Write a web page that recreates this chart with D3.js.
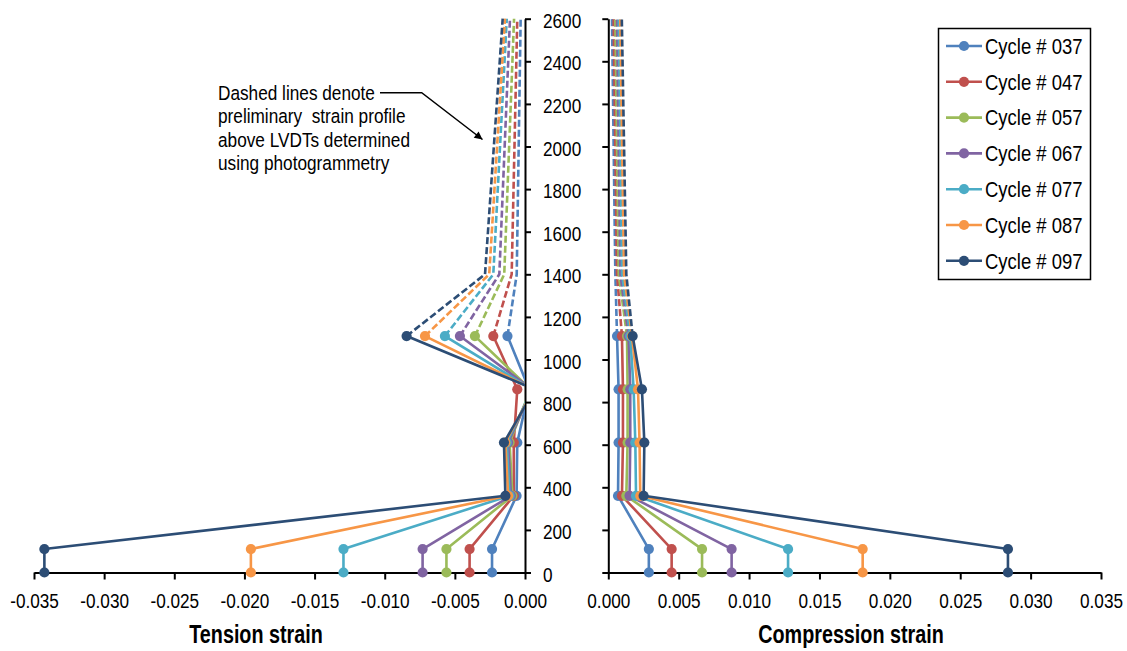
<!DOCTYPE html>
<html>
<head>
<meta charset="utf-8">
<script src="https://cdn.jsdelivr.net/npm/d3@7"></script>
<style>
  html, body { margin: 0; padding: 0; background: #ffffff; }
  svg { display: block; }
  text { font-family: "Liberation Sans", Arial, sans-serif; fill: #000; }
</style>
</head>
<body>
<script>
// ---------------- DATA ----------------
const cycles = ["Cycle # 037", "Cycle # 047", "Cycle # 057", "Cycle # 067", "Cycle # 077", "Cycle # 087", "Cycle # 097"];
const colors = ["#4F81BD", "#C0504D", "#9BBB59", "#8064A2", "#4BACC6", "#F79646", "#2C4D75"];

// gauge heights (LVDT levels) and photogrammetry levels
const heights = [0, 110, 360, 610, 860, 1110];
const dashedHeights = [1110, 1400, 2600];

// tension strain at LVDT levels (one row per cycle, aligned with heights)
const tensionLVDT = [
  [-0.00235, -0.00235, -0.00060, -0.00055,  0.00030, -0.00125],
  [-0.00395, -0.00395, -0.00080, -0.00080, -0.00055, -0.00226],
  [-0.00560, -0.00560, -0.00090, -0.00110,  0.00040, -0.00357],
  [-0.00730, -0.00730, -0.00100, -0.00120,  0.00050, -0.00464],
  [-0.01294, -0.01294, -0.00110, -0.00130,  0.00050, -0.00571],
  [-0.01954, -0.01954, -0.00120, -0.00140,  0.00060, -0.00713],
  [-0.03426, -0.03426, -0.00140, -0.00150,  0.00070, -0.00844]
];
// tension strain above LVDTs (aligned with dashedHeights)
const tensionPhoto = [
  [-0.00125, -0.00059, -0.00031],
  [-0.00226, -0.00095, -0.00055],
  [-0.00357, -0.00148, -0.00078],
  [-0.00464, -0.00183, -0.00107],
  [-0.00571, -0.00226, -0.00130],
  [-0.00713, -0.00255, -0.00143],
  [-0.00844, -0.00285, -0.00159]
];
// compression strain at LVDT levels
const compressionLVDT = [
  [0.00288, 0.00288, 0.00069, 0.00073, 0.00073, 0.00062],
  [0.00450, 0.00450, 0.00097, 0.00104, 0.00104, 0.00097],
  [0.00666, 0.00666, 0.00128, 0.00137, 0.00137, 0.00133],
  [0.00876, 0.00876, 0.00151, 0.00156, 0.00156, 0.00144],
  [0.01277, 0.01277, 0.00197, 0.00192, 0.00180, 0.00156],
  [0.01807, 0.01807, 0.00227, 0.00222, 0.00211, 0.00168],
  [0.02839, 0.02839, 0.00251, 0.00256, 0.00239, 0.00173]
];
// compression strain above LVDTs
const compressionPhoto = [
  [0.00062, 0.00050, 0.00026],
  [0.00097, 0.00062, 0.00038],
  [0.00133, 0.00074, 0.00050],
  [0.00144, 0.00086, 0.00062],
  [0.00156, 0.00098, 0.00074],
  [0.00168, 0.00112, 0.00085],
  [0.00173, 0.00128, 0.00096]
];

const tensionTicks = [-0.035, -0.030, -0.025, -0.020, -0.015, -0.010, -0.005, 0.000];
const compressionTicks = [0.000, 0.005, 0.010, 0.015, 0.020, 0.025, 0.030, 0.035];
const heightTicks = [0, 200, 400, 600, 800, 1000, 1200, 1400, 1600, 1800, 2000, 2200, 2400, 2600];

const annotationLines = ["Dashed lines denote", "preliminary  strain profile", "above LVDTs determined", "using photogrammetry"];

// ---------------- CHART ----------------
const W = 1127, H = 651;
const svg = d3.select("body").append("svg").attr("width", W).attr("height", H);

const y = d3.scaleLinear().domain([0, 2600]).range([572.5, 18.7]);
const xL = d3.scaleLinear().domain([-0.035, 0]).range([34, 525]);
const xR = d3.scaleLinear().domain([0, 0.035]).range([608.3, 1101]);

const fmt = d => Math.abs(d).toFixed(3) === "0.000" ? "0.000" : (d < 0 ? "-" : "") + Math.abs(d).toFixed(3);

function styleAxis(g) {
  g.selectAll("path.domain").attr("stroke", "#000").attr("stroke-width", 2);
  g.selectAll(".tick line").attr("stroke", "#000").attr("stroke-width", 2);
}

// bottom axes
const gxL = svg.append("g").attr("transform", `translate(0,${y(0)})`)
  .call(d3.axisBottom(xL).tickValues(tensionTicks).tickFormat(fmt).tickSize(7).tickSizeOuter(0));
const gxR = svg.append("g").attr("transform", `translate(0,${y(0)})`)
  .call(d3.axisBottom(xR).tickValues(compressionTicks).tickFormat(fmt).tickSize(7).tickSizeOuter(0));
[gxL, gxR].forEach(g => {
  styleAxis(g);
  g.selectAll(".tick text")
    .attr("y", null).attr("dy", null)
    .attr("transform", "translate(0,35.5) scale(0.83,1)")
    .style("font-size", "20.7px").attr("text-anchor", "middle");
});

// left panel vertical axis (labels on its right)
const gyL = svg.append("g").attr("transform", `translate(${xL(0)},0)`)
  .call(d3.axisRight(y).tickValues(heightTicks).tickFormat(d3.format("d")).tickSize(6).tickSizeOuter(0));
styleAxis(gyL);
gyL.selectAll(".tick text")
  .attr("x", null).attr("dy", null)
  .attr("transform", "translate(18,8.5) scale(0.83,1)")
  .style("font-size", "20.7px").attr("text-anchor", "start");

// right panel vertical axis (no labels)
const gyR = svg.append("g").attr("transform", `translate(${xR(0)},0)`)
  .call(d3.axisLeft(y).tickValues(heightTicks).tickFormat("").tickSize(6).tickSizeOuter(0));
styleAxis(gyR);

// axis titles
svg.append("text").attr("transform", "translate(256,643) scale(0.76,1)")
  .attr("text-anchor", "middle").style("font-size", "26px").style("font-weight", "bold")
  .text("Tension strain");
svg.append("text").attr("transform", "translate(851,643) scale(0.76,1)")
  .attr("text-anchor", "middle").style("font-size", "26px").style("font-weight", "bold")
  .text("Compression strain");

// clip for the tension panel (values > 0 fall outside the plot area)
svg.append("clipPath").attr("id", "clipL")
  .append("rect").attr("x", 0).attr("y", 0).attr("width", xL(0)).attr("height", H);

const lineW = 2.6, R = 5.1;

function drawPanel(xs, solid, dashed, clip) {
  const g = svg.append("g");
  if (clip) g.attr("clip-path", "url(#clipL)");
  // dashed (photogrammetry) profiles
  dashed.forEach((vals, i) => {
    const pts = vals.map((v, k) => ({ v, h: dashedHeights[k] }));
    g.append("path").datum(pts)
      .attr("fill", "none").attr("stroke", colors[i]).attr("stroke-width", lineW)
      .attr("stroke-dasharray", "7,3")
      .attr("d", d3.line().x(d => xs(d.v)).y(d => y(d.h)));
  });
  // solid LVDT profiles with markers
  solid.forEach((vals, i) => {
    const pts = vals.map((v, k) => ({ v, h: heights[k] }));
    g.append("path").datum(pts)
      .attr("fill", "none").attr("stroke", colors[i]).attr("stroke-width", lineW)
      .attr("stroke-linejoin", "round")
      .attr("d", d3.line().x(d => xs(d.v)).y(d => y(d.h)));
    const [d0, d1] = xs.domain();
    g.selectAll(null).data(pts.filter(d => d.v >= d0 && d.v <= d1)).enter()
      .append("circle")
      .attr("cx", d => xs(d.v)).attr("cy", d => y(d.h)).attr("r", R)
      .attr("fill", colors[i]);
  });
}
drawPanel(xL, tensionLVDT, tensionPhoto, true);
drawPanel(xR, compressionLVDT, compressionPhoto, false);

// annotation
const ann = svg.append("g");
annotationLines.forEach((t, i) => {
  ann.append("text")
    .attr("transform", `translate(218,${100 + i * 23.3}) scale(0.84,1)`)
    .style("font-size", "20.5px").style("white-space", "pre")
    .text(t);
});
svg.append("defs").append("marker").attr("id", "arrow")
  .attr("viewBox", "0 0 10 10").attr("refX", 10).attr("refY", 5)
  .attr("markerWidth", 10).attr("markerHeight", 8).attr("markerUnits", "userSpaceOnUse")
  .attr("orient", "auto")
  .append("path").attr("d", "M0,0 L10,5 L0,10 z").attr("fill", "#000");
ann.append("path")
  .attr("d", "M380,92.7 L421.7,92.7 L482.5,139.5")
  .attr("fill", "none").attr("stroke", "#000").attr("stroke-width", 1.5)
  .attr("marker-end", "url(#arrow)");

// legend
const leg = svg.append("g");
leg.append("rect").attr("x", 938.5).attr("y", 28.5).attr("width", 152).attr("height", 251)
  .attr("fill", "#fff").attr("stroke", "#000").attr("stroke-width", 1.5);
cycles.forEach((c, i) => {
  const cy = 46 + i * 35.8;
  leg.append("line").attr("x1", 946).attr("x2", 982).attr("y1", cy).attr("y2", cy)
    .attr("stroke", colors[i]).attr("stroke-width", lineW);
  leg.append("circle").attr("cx", 964).attr("cy", cy).attr("r", R).attr("fill", colors[i]);
  leg.append("text").attr("transform", `translate(985,${cy + 7.8}) scale(0.86,1)`)
    .style("font-size", "21.5px").text(c);
});
</script>
</body>
</html>
